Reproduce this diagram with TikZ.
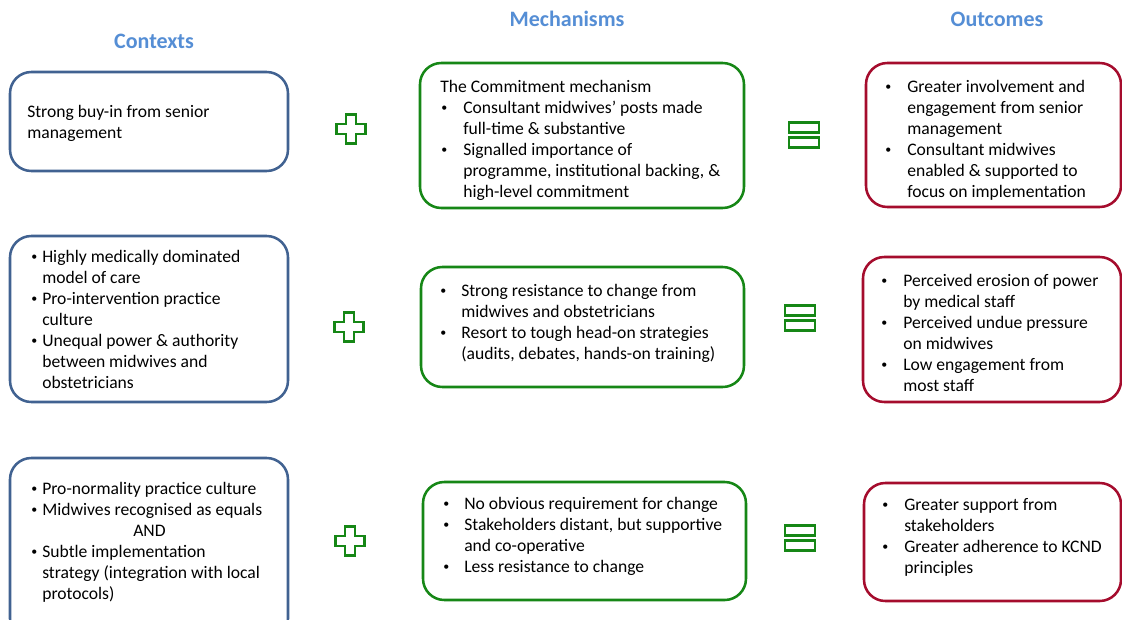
\documentclass[tikz,border=0pt]{standalone}
\usepackage{graphicx}
\usepackage{fontspec}
\setmainfont{Carlito}
\usetikzlibrary{fit}

\newdimen\px \px=0.75pt
\definecolor{hdr}{RGB}{85,142,213}
\definecolor{ctxc}{RGB}{65,98,145}
\definecolor{mchc}{RGB}{22,135,22}
\definecolor{outc}{RGB}{165,12,45}

\newcommand\bodyfont{\fontsize{13.2}{15.75}\selectfont}
\newcommand\hdrfont{\fontsize{16.5}{19}\selectfont\bfseries}
% small list bullet
\newcommand\smallbullet{\raisebox{0.09em}{\scalebox{0.68}{\textbullet}}}
% bullet cell: #1 = bullet offset, #2 = text offset (both in px)
\newcommand\bu[2]{\makebox[#2\px][l]{\hspace*{#1\px}\smallbullet}}

\tikzset{
  card/.style={draw, line width=1.9pt, rounded corners=16pt, inner sep=0pt, fill=white},
  ctxbox/.style={card, draw=ctxc},
  mchbox/.style={card, draw=mchc},
  outbox/.style={card, draw=outc},
  txt/.style={anchor=base west, inner sep=0pt, font=\bodyfont, text=black},
  hdr/.style={anchor=base, inner sep=0pt, font=\hdrfont, text=hdr},
  plussign/.pic={
    \draw[mchc, line width=1.8pt, fill=white]
      (-5,-14.5) -- (5,-14.5) -- (5,-5) -- (14.5,-5) -- (14.5,5) -- (5,5)
      -- (5,14.5) -- (-5,14.5) -- (-5,5) -- (-14.5,5) -- (-14.5,-5) -- (-5,-5) -- cycle;
  },
  equalsign/.pic={
    \draw[mchc, line width=2pt, fill=white] (-15,-12.5) rectangle (15,-2.5);
    \draw[mchc, line width=2pt, fill=white] (-15,2.5) rectangle (15,12.5);
  }
}

\begin{document}
\begin{tikzpicture}[x=0.75pt, y=-0.75pt]
\clip (0,0) rectangle (1122,619);
\fill[white] (0,0) rectangle (1122,619);

% column headings
\node[hdr] (hctx) at (154,48) {Contexts};
\node[hdr] (hmch) at (567,26) {Mechanisms};
\node[hdr] (hout) at (997,26) {Outcomes};

% ---------- row 1 ----------
\node[ctxbox, fit={(10,72) (288,171)}] (c1) {};
\node[mchbox, fit={(420,63) (744,208)}] (m1) {};
\node[outbox, fit={(866,63) (1121,207)}] (o1) {};

\node[txt] (c1t) at (27,117) {\begin{tabular}[t]{@{}l@{}}
Strong buy-in from senior\\
management
\end{tabular}};

\node[txt] (m1t) at (440,92) {\begin{tabular}[t]{@{}l@{}l@{}}
\multicolumn{2}{@{}l@{}}{The Commitment mechanism}\\
\bu{1}{23} & Consultant midwives’ posts made\\
 & full-time \& substantive\\
\bu{1}{23} & Signalled importance of\\
 & programme, institutional backing, \&\\
 & high-level commitment
\end{tabular}};

\node[txt] (o1t) at (885,92) {\begin{tabular}[t]{@{}l@{}l@{}}
\bu{0}{22} & Greater involvement and\\
 & engagement from senior\\
 & management\\
\bu{0}{22} & Consultant midwives\\
 & enabled \& supported to\\
 & focus on implementation
\end{tabular}};

% ---------- row 2 ----------
\node[ctxbox, fit={(10,236) (288,402)}] (c2) {};
\node[mchbox, fit={(421,267) (744,387)}] (m2) {};
\node[outbox, fit={(863,257) (1121,402)}] (o2) {};

\node[txt] (c2t) at (31,262) {\begin{tabular}[t]{@{}l@{}l@{}}
\bu{0}{11} & Highly medically dominated\\
 & model of care\\
\bu{0}{11} & Pro-intervention practice\\
 & culture\\
\bu{0}{11} & Unequal power \& authority\\
 & between midwives and\\
 & obstetricians
\end{tabular}};

\node[txt] (m2t) at (440,296) {\begin{tabular}[t]{@{}l@{}l@{}}
\bu{0}{21} & Strong resistance to change from\\
 & midwives and obstetricians\\
\bu{0}{21} & Resort to tough head-on strategies\\
 & (audits, debates, hands-on training)
\end{tabular}};

\node[txt] (o2t) at (881,286) {\begin{tabular}[t]{@{}l@{}l@{}}
\bu{0}{22} & Perceived erosion of power\\
 & by medical staff\\
\bu{0}{22} & Perceived undue pressure\\
 & on midwives\\
\bu{0}{22} & Low engagement from\\
 & most staff
\end{tabular}};

% ---------- row 3 ----------
\node[ctxbox, fit={(10,458) (288,640)}] (c3) {};
\node[mchbox, fit={(423,482) (746,600)}] (m3) {};
\node[outbox, fit={(864,483) (1121,601)}] (o3) {};

\node[txt] (c3t) at (31,494) {\begin{tabular}[t]{@{}l@{}l@{}}
\bu{0}{11} & Pro-normality practice culture\\
\bu{0}{11} & Midwives recognised as equals\\
\multicolumn{2}{@{}l@{}}{\hspace*{102\px}AND}\\
\bu{0}{11} & Subtle implementation\\
 & strategy (integration with local\\
 & protocols)
\end{tabular}};

\node[txt] (m3t) at (443,509) {\begin{tabular}[t]{@{}l@{}l@{}}
\bu{0}{21} & No obvious requirement for change\\
\bu{0}{21} & Stakeholders distant, but supportive\\
 & and co-operative\\
\bu{0}{21} & Less resistance to change
\end{tabular}};

\node[txt] (o3t) at (882,510) {\begin{tabular}[t]{@{}l@{}l@{}}
\bu{0}{22} & Greater support from\\
 & stakeholders\\
\bu{0}{22} & Greater adherence to KCND\\
 & principles
\end{tabular}};

% operators between the columns
\pic (plus1) at (351,129) {plussign};
\pic (plus2) at (349,327) {plussign};
\pic (plus3) at (350,541) {plussign};
\pic (eq1) at (804,135) {equalsign};
\pic (eq2) at (800,318) {equalsign};
\pic (eq3) at (800,538) {equalsign};
\end{tikzpicture}
\end{document}
